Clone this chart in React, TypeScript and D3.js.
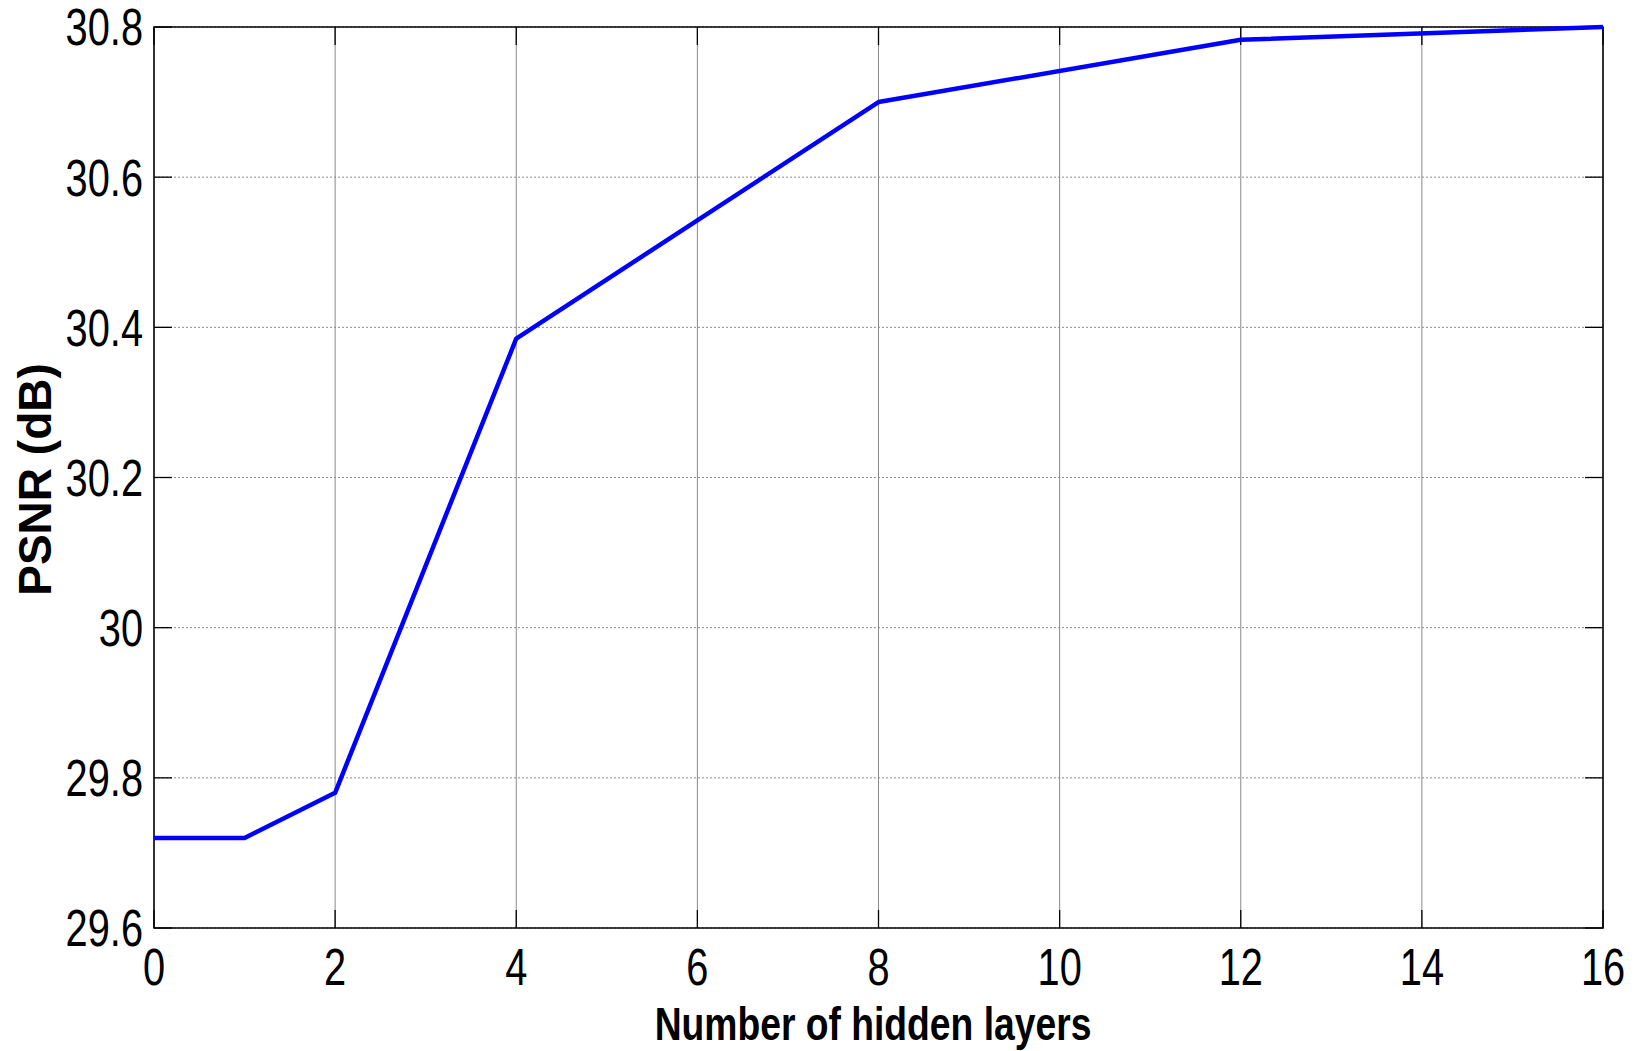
import React from "react";
import * as d3 from "d3";

const layers = [0, 1, 2, 4, 8, 12, 16];
const psnr = [29.72, 29.72, 29.78, 30.385, 30.70, 30.783, 30.80];
const xTicks = [0, 2, 4, 6, 8, 10, 12, 14, 16];
const yTicks = [29.6, 29.8, 30, 30.2, 30.4, 30.6, 30.8];
const yTickLabels = ["29.6", "29.8", "30", "30.2", "30.4", "30.6", "30.8"];

const W = 1635;
const H = 1051;
const L = 154, R = 1603, T = 27, B = 928;
const sans = "'Liberation Sans', Arial, sans-serif";

function NText(props: { x: number; y: number; anchor: string; size: number; sx: number; bold?: boolean; dy?: string; children: React.ReactNode }) {
  return (
    <text
      transform={`translate(${props.x}, ${props.y}) scale(${props.sx}, 1)`}
      textAnchor={props.anchor}
      dy={props.dy}
      fontFamily={sans}
      fontSize={props.size}
      fontWeight={props.bold ? "bold" : "normal"}
      fill="#000"
    >
      {props.children}
    </text>
  );
}

export default function App() {
  const x = d3.scaleLinear().domain([0, 16]).range([L, R]);
  const y = d3.scaleLinear().domain([29.6, 30.8]).range([B, T]);
  const line = d3.line<number>().x((_, i) => x(layers[i])).y((d) => y(d));
  const tl = 18;
  return (
    <svg width={W} height={H} style={{ position: "absolute", left: 0, top: 0, background: "#fff" }}>
      <rect x={0} y={0} width={W} height={H} fill="#fff" />
      {xTicks.map((t) => (
        <line key={"gx" + t} x1={x(t)} x2={x(t)} y1={T} y2={B} stroke="#8a8a8a" strokeWidth={1} />
      ))}
      {yTicks.map((t) => (
        <line key={"gy" + t} x1={L} x2={R} y1={y(t)} y2={y(t)} stroke="#8a8a8a" strokeWidth={1} strokeDasharray="2,2" />
      ))}
      {xTicks.map((t) => (
        <g key={"tx" + t}>
          <line x1={x(t)} x2={x(t)} y1={B} y2={B - tl} stroke="#000" strokeWidth={1.3} />
          <line x1={x(t)} x2={x(t)} y1={T} y2={T + tl} stroke="#000" strokeWidth={1.3} />
        </g>
      ))}
      {yTicks.map((t) => (
        <g key={"ty" + t}>
          <line x1={L} x2={L + tl} y1={y(t)} y2={y(t)} stroke="#000" strokeWidth={1.3} />
          <line x1={R} x2={R - tl} y1={y(t)} y2={y(t)} stroke="#000" strokeWidth={1.3} />
        </g>
      ))}
      <rect x={L} y={T} width={R - L} height={B - T} fill="none" stroke="#000" strokeWidth={1.5} />
      <path d={line(psnr) || ""} fill="none" stroke="#0000ff" strokeWidth={4.5} strokeLinejoin="round" />
      {xTicks.map((t) => (
        <NText key={"lx" + t} x={x(t)} y={985} anchor="middle" size={51} sx={0.78}>
          {t}
        </NText>
      ))}
      {yTicks.map((t, i) => (
        <NText key={"ly" + t} x={143} y={y(t)} dy="0.36em" anchor="end" size={51} sx={0.78}>
          {yTickLabels[i]}
        </NText>
      ))}
      <NText x={873} y={1040} anchor="middle" size={46} sx={0.81} bold>
        Number of hidden layers
      </NText>
      <text
        transform={`translate(51, ${(T + B) / 2 + 2}) rotate(-90)`}
        textAnchor="middle"
        fontFamily={sans}
        fontWeight="bold"
        fontSize={46}
        fill="#000"
      >
        PSNR (dB)
      </text>
    </svg>
  );
}
